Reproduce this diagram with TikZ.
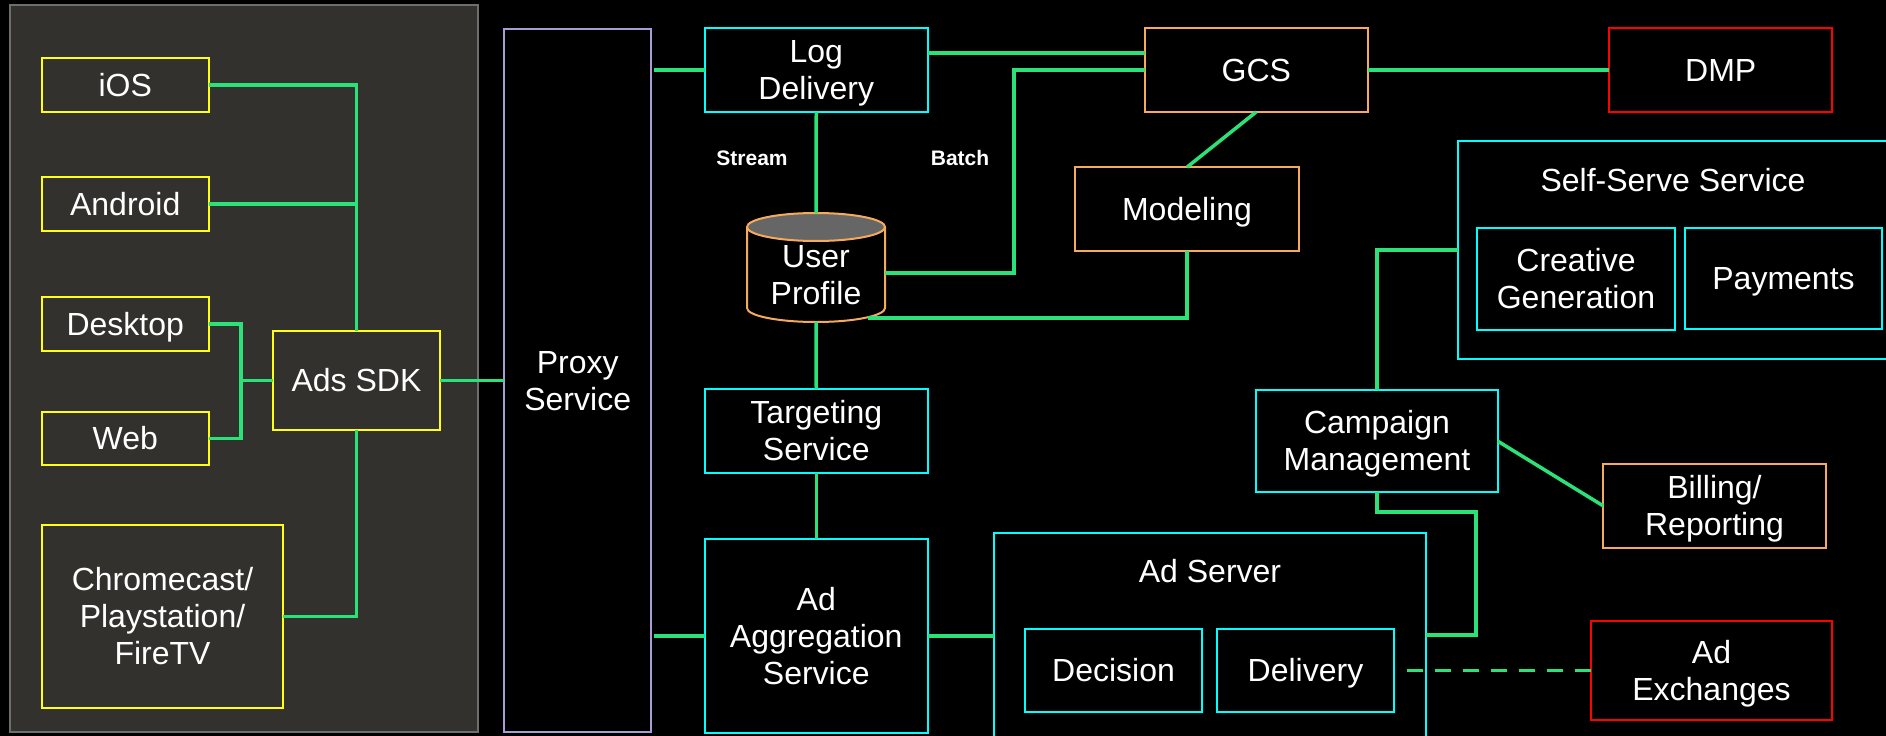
\documentclass[tikz,border=0pt]{standalone}
\usepackage{fontspec}
\setmainfont{Liberation Sans}
\definecolor{wire}{RGB}{42,226,120}
\definecolor{yel}{RGB}{255,255,20}
\definecolor{cyn}{RGB}{0,255,255}
\definecolor{org}{RGB}{245,170,92}
\definecolor{redb}{RGB}{255,0,0}
\definecolor{lav}{RGB}{170,156,212}
\definecolor{panelfill}{RGB}{51,49,45}
\definecolor{panelline}{RGB}{110,110,110}
\definecolor{dbtop}{RGB}{102,102,102}
% line strut: ascent and descent of the text face, so that labels sit centred on their lines
\newcommand\ls{\rule[-6.8bp]{0pt}{35.8bp}}
\begin{document}
\begin{tikzpicture}[x=1bp,y=-1bp,
  txt/.style={inner sep=0pt,outer sep=0pt,align=center,text=white,
    font=\fontsize{32bp}{37bp}\selectfont},
  box/.style={txt,draw,line width=2bp},
  ybox/.style={box,draw=yel},
  cbox/.style={box,draw=cyn,fill=black},
  obox/.style={box,draw=org,fill=black},
  rbox/.style={box,draw=redb,fill=black},
  pbox/.style={box,draw=lav,fill=black},
  lbl/.style={inner sep=0pt,text=white,font=\fontsize{21bp}{24bp}\selectfont\bfseries},
  conn/.style={draw=wire,line width=3.5bp},
  dashconn/.style={conn,dash pattern=on 16bp off 12bp}]
\useasboundingbox (0,0) rectangle (1886,736);
\clip (0,0) rectangle (1886,736);
\fill[black] (0,0) rectangle (1886,736);

% client platform panel
\draw[panelline,fill=panelfill,line width=2bp] (10,5) rectangle (478,732);

% clients and SDK
\node[ybox,minimum width=167.5,minimum height=54] (ios) at (125.25,85) {\ls iOS};
\node[ybox,minimum width=167.5,minimum height=54] (android) at (125.25,204) {\ls Android};
\node[ybox,minimum width=167.5,minimum height=54] (desktop) at (125.25,324) {\ls Desktop};
\node[ybox,minimum width=167.5,minimum height=53] (web) at (125.25,438.5) {\ls Web};
\node[ybox,minimum width=167,minimum height=99] (sdk) at (356.5,380.5) {\ls Ads SDK};
\node[ybox,minimum width=242,minimum height=183] (chrome) at (162.5,616.5) {\ls Chromecast/\\Playstation/\\\ls FireTV};

% proxy
\node[pbox,minimum width=148,minimum height=705] (proxy) at (577.7,380.5) {\ls Proxy\\\ls Service};

% data pipeline
\node[cbox,minimum width=223.5,minimum height=84] (log) at (816.25,70) {\ls Log\\\ls Delivery};
\node[obox,minimum width=223.4,minimum height=84] (gcs) at (1256.3,70) {\ls GCS};
\node[rbox,minimum width=223.5,minimum height=84] (dmp) at (1720.75,70) {\ls DMP};
\node[obox,minimum width=224,minimum height=84] (model) at (1187,209) {\ls Modeling};

% user profile store
\node[minimum width=138,minimum height=109,inner sep=0pt,outer sep=0pt] (cyl) at (816,267.5) {};
\fill[black] (747,227) -- (747,308) arc[start angle=180,end angle=360,x radius=69bp,y radius=14bp] -- (885,227) -- cycle;
\draw[org,line width=2bp] (747,227) -- (747,308) arc[start angle=180,end angle=360,x radius=69bp,y radius=14bp] -- (885,227);
\draw[org,fill=dbtop,line width=2bp] (816,227) ellipse [x radius=69bp,y radius=14bp];
\node[txt] (cyltxt) at (816,274.5) {\ls User\\\ls Profile};

\node[lbl] (stream) at (752,158) {Stream};
\node[lbl] (batch) at (960,158) {Batch};

% serving path
\node[cbox,minimum width=223.5,minimum height=84] (target) at (816.25,431) {\ls Targeting\\\ls Service};
\node[cbox,minimum width=223.5,minimum height=194] (agg) at (816.25,636) {\ls Ad\\Aggregation\\\ls Service};
\node[cbox,minimum width=434,minimum height=204] (adserver) at (1210,635) {};
\node[txt] (adservertitle) at (1210,571) {\ls Ad Server};
\node[cbox,minimum width=177,minimum height=83] (decision) at (1113.5,670.5) {\ls Decision};
\node[cbox,minimum width=177,minimum height=83] (delivery) at (1305.5,670.5) {\ls Delivery};
\node[rbox,minimum width=241,minimum height=99] (adx) at (1711.5,670.5) {\ls Ad\\\ls Exchanges};

% advertiser side
\node[cbox,minimum width=438,minimum height=218] (selfserve) at (1676,250) {};
\node[txt] (selfservetitle) at (1673,180) {\ls Self-Serve Service};
\node[cbox,minimum width=198,minimum height=102] (creative) at (1576,279) {\ls Creative\\\ls Generation};
\node[cbox,minimum width=197,minimum height=101] (payments) at (1783.5,278.5) {\ls Payments};
\node[cbox,minimum width=242,minimum height=102] (campaign) at (1377,441) {\ls Campaign\\\ls Management};
\node[obox,minimum width=223,minimum height=84] (billing) at (1714.5,506) {\ls Billing/\\\ls Reporting};

% turning points
\coordinate (dwx) at (241,380.5);
\coordinate (batchx) at (1014,273);
\coordinate (cylbr) at (868,318);
\coordinate (cmturn) at (1476,512);

% connectors
\draw[conn] (ios.east) -| (sdk.north);
\draw[conn] (android.east) -- (android.east -| sdk.north);
\draw[conn] (desktop.east) -| (dwx) |- (web.east);
\draw[conn] (dwx) -- (sdk.west);
\draw[conn] (sdk.south) |- (chrome.east);
\draw[conn] (sdk.east) -- (proxy.west);
\draw[conn] ([xshift=3bp]proxy.east |- log.west) -- (log.west);
\draw[conn] ([xshift=3bp]proxy.east |- agg.west) -- (agg.west);
\draw[conn] ([yshift=17bp]log.east) -- ([yshift=17bp]gcs.west);
\draw[conn] (gcs.west) -| (batchx) -- (batchx -| cyl.east);
\draw[conn] (log.south) -- (cyl.north);
\draw[conn] (gcs.south) -- (model.north);
\draw[conn] (model.south) |- (cylbr);
\draw[conn] (gcs.east) -- (dmp.west);
\draw[conn] (cyl.south) -- (target.north);
\draw[conn] (target.south) -- (agg.north);
\draw[conn] (agg.east) -- (agg.east -| adserver.west);
\draw[conn] (selfserve.west) -| (campaign.north);
\draw[conn] (campaign.east) -- (billing.west);
\draw[conn] (campaign.south) |- (cmturn) |- (adserver.east);
\draw[dashconn,shorten <=13bp] (delivery.east) -- (adx.west);
\end{tikzpicture}
\end{document}
